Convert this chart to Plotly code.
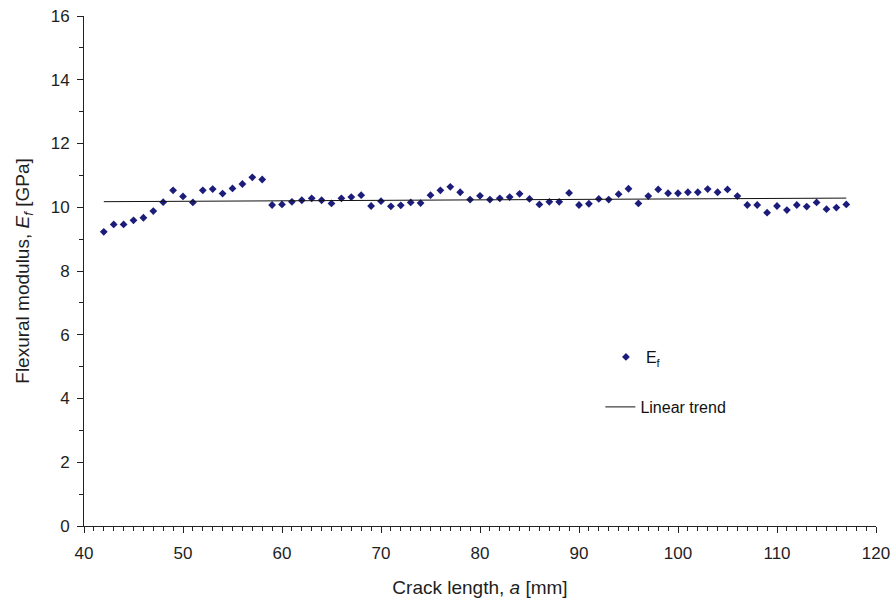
import numpy as np
import plotly.graph_objects as go

# Crack length a [mm] and measured flexural modulus E_f [GPa]
crack_length = list(range(42, 118))
flexural_modulus = [
    9.23, 9.46, 9.46, 9.59, 9.67, 9.88, 10.16, 10.53, 10.34, 10.15,
    10.53, 10.57, 10.43, 10.59, 10.73, 10.94, 10.87, 10.07, 10.09, 10.17,
    10.22, 10.28, 10.22, 10.12, 10.28, 10.32, 10.38, 10.04, 10.19, 10.03,
    10.06, 10.15, 10.13, 10.38, 10.53, 10.64, 10.47, 10.24, 10.36, 10.24,
    10.28, 10.32, 10.42, 10.26, 10.09, 10.17, 10.17, 10.45, 10.07, 10.11,
    10.26, 10.24, 10.41, 10.58, 10.12, 10.35, 10.56, 10.44, 10.44, 10.47,
    10.47, 10.57, 10.47, 10.56, 10.35, 10.07, 10.07, 9.83, 10.04, 9.91,
    10.07, 10.02, 10.15, 9.94, 9.99, 10.09,
]

x_ticks = [40, 50, 60, 70, 80, 90, 100, 110, 120]
y_ticks = [0, 2, 4, 6, 8, 10, 12, 14, 16]

# Least-squares linear trend through the measurements
slope, intercept = np.polyfit(crack_length, flexural_modulus, 1)
trend_x = [crack_length[0], crack_length[-1]]
trend_y = [slope * v + intercept for v in trend_x]

FONT = "Liberation Sans, Arial, sans-serif"
INK = "#1e1e1e"

fig = go.Figure()
fig.add_trace(go.Scatter(
    x=crack_length, y=flexural_modulus, mode="markers",
    name="E<sub>f</sub>",
    marker=dict(symbol="diamond", size=6, color="#1c1c7a"),
    legend="legend",
))
fig.add_trace(go.Scatter(
    x=trend_x, y=trend_y, mode="lines",
    name="Linear trend",
    line=dict(color="#111111", width=1),
    legend="legend2",
))

axis_common = dict(
    showline=True, linecolor="#222222", linewidth=1,
    ticks="outside", ticklen=6, tickcolor="#222222",
    showgrid=False, zeroline=False, mirror=False, automargin=False,
    tickfont=dict(family=FONT, size=17, color=INK),
)

fig.update_xaxes(
    range=[40, 120], tickvals=x_ticks, ticklabelstandoff=6,
    minor=dict(dtick=1, tick0=40, ticks="outside", ticklen=4, tickcolor="#222222"),
    title=dict(text="Crack length, <i>a</i> [mm]",
               font=dict(family=FONT, size=19, color=INK), standoff=18),
    **axis_common,
)
fig.update_yaxes(
    range=[0, 16], tickvals=y_ticks, ticklabelstandoff=4,
    minor=dict(dtick=1, tick0=0, ticks="outside", ticklen=4, tickcolor="#222222"),
    title=dict(text="Flexural modulus, <i>E<sub>f</sub></i> [GPa]",
               font=dict(family=FONT, size=19, color=INK), standoff=16),
    **axis_common,
)

legend_common = dict(
    bgcolor="rgba(0,0,0,0)", borderwidth=0,
    font=dict(family=FONT, size=16, color="#111111"),
    xanchor="left", yanchor="middle",
)
fig.update_layout(
    width=893, height=601,
    margin=dict(l=84, r=17, t=16, b=75),
    paper_bgcolor="white", plot_bgcolor="white",
    legend=dict(x=0.659, y=(526 - 357) / 510, **legend_common),
    legend2=dict(x=0.652, y=(526 - 407) / 510, **legend_common),
    showlegend=True,
)

fig.write_html("out.html")
